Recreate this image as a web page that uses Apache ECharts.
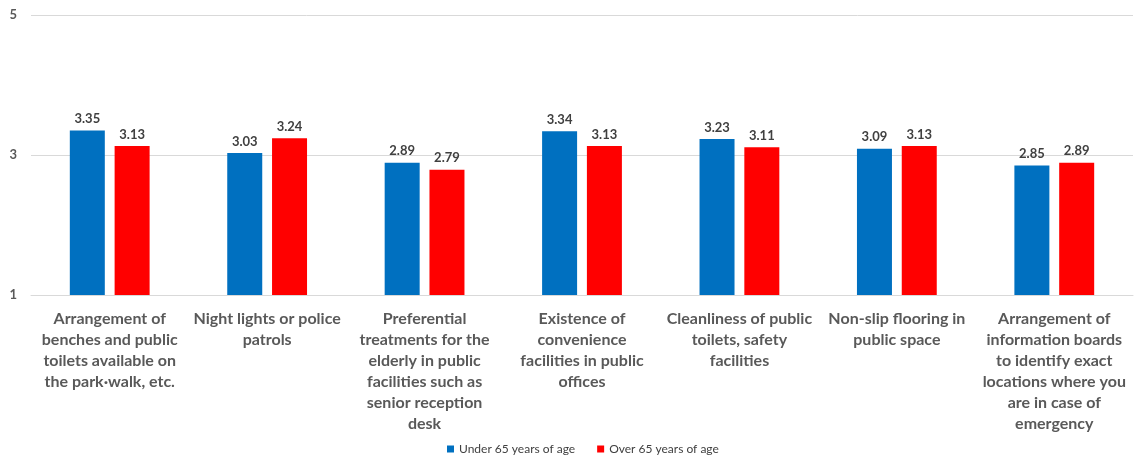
<!DOCTYPE html>
<html>
<head>
<meta charset="utf-8">
<script src="https://cdn.jsdelivr.net/npm/echarts@6/dist/echarts.min.js"></script>
<style>
  html, body { margin: 0; padding: 0; background: #ffffff; }
  #chart { width: 1134px; height: 459px; }
</style>
</head>
<body>
<div id="chart"></div>
<script>
// Facility categories (line breaks give the wrapped axis labels)
const categories = [
  'Arrangement of\nbenches and public\ntoilets available on\nthe park\u00b7walk, etc.',
  'Night lights or police\npatrols',
  'Preferential\ntreatments for the\nelderly in public\nfacilities such as\nsenior reception\ndesk',
  'Existence of\nconvenience\nfacilities in public\noffices',
  'Cleanliness of public\ntoilets, safety\nfacilities',
  'Non-slip flooring in\npublic space',
  'Arrangement of\ninformation boards\nto identify exact\nlocations where you\nare in case of\nemergency'
];

const seriesNames = ['Under 65 years of age', 'Over 65 years of age'];
const under65 = [3.35, 3.03, 2.89, 3.34, 3.23, 3.09, 2.85];
const over65 = [3.13, 3.24, 2.79, 3.13, 3.11, 3.13, 2.89];

const yMin = 1;
const yMax = 5;
const yStep = 2;

const font = 'Lato, "Open Sans", sans-serif';

const valueLabel = {
  show: true,
  position: 'top',
  distance: 5,
  fontFamily: font,
  fontSize: 13,
  fontWeight: 'bold',
  color: '#404040',
  formatter: p => p.value.toFixed(2)
};

const chart = echarts.init(document.getElementById('chart'), null, { renderer: 'canvas' });

chart.setOption({
  animation: false,
  backgroundColor: '#ffffff',
  grid: { left: 31, right: 1, top: 15, bottom: 164, containLabel: false },
  legend: {
    top: 438,
    left: 442,
    padding: 5,
    icon: 'rect',
    itemWidth: 7,
    itemHeight: 7,
    itemGap: 22,
    textStyle: { fontFamily: font, fontSize: 12, color: '#404040' },
    data: seriesNames
  },
  xAxis: {
    type: 'category',
    data: categories,
    axisLine: { show: true, lineStyle: { color: '#d9d9d9', width: 1 } },
    axisTick: { show: false },
    axisLabel: {
      interval: 0,
      margin: 13,
      fontFamily: font,
      fontSize: 16,
      fontWeight: 'bold',
      color: '#595959',
      lineHeight: 21
    }
  },
  yAxis: {
    type: 'value',
    min: yMin,
    max: yMax,
    interval: yStep,
    axisLine: { show: false },
    axisTick: { show: false },
    splitLine: { show: true, lineStyle: { color: '#d9d9d9', width: 1 } },
    axisLabel: {
      margin: 14,
      fontFamily: font,
      fontSize: 13,
      fontWeight: 'bold',
      color: '#595959'
    }
  },
  series: [
    {
      name: seriesNames[0],
      type: 'bar',
      data: under65,
      barWidth: 35,
      barGap: '28%',
      itemStyle: { color: '#0070c0' },
      label: valueLabel
    },
    {
      name: seriesNames[1],
      type: 'bar',
      data: over65,
      barWidth: 35,
      barGap: '28%',
      itemStyle: { color: '#ff0000' },
      label: valueLabel
    }
  ]
});
</script>
</body>
</html>
